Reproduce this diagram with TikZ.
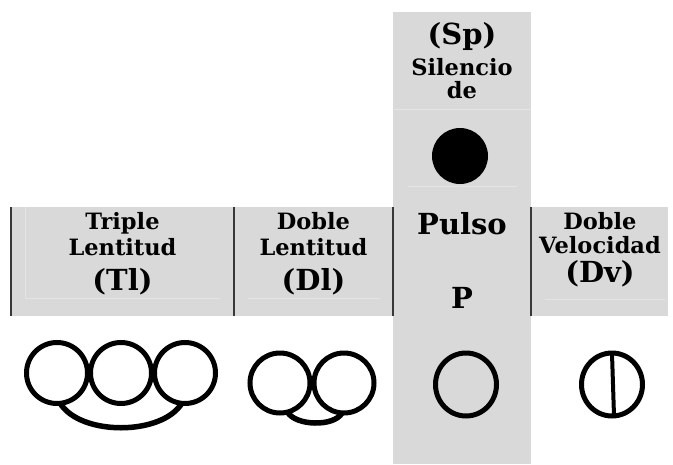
\documentclass[tikz,border=0pt]{standalone}
\usepackage{fontspec}
\setmainfont{DejaVu Serif}
\usepackage{xcolor}
\usepackage{tikz}

\definecolor{panelgray}{HTML}{D9D9D9}
\definecolor{faintgray}{HTML}{E4E4E4}
\definecolor{sepgray}{HTML}{383838}

\begin{document}
\begin{tikzpicture}[x=1pt,y=-1pt,
    small/.style={anchor=base,inner sep=0pt,font=\bfseries\fontsize{22.5}{26}\selectfont},
    big/.style={anchor=base,inner sep=0pt,font=\bfseries\fontsize{29}{34}\selectfont},
    ring/.style={line width=5pt},
    tie/.style={line width=5.5pt},
    faint/.style={draw=faintgray,line width=1pt},
    sep/.style={draw=sepgray,line width=1.5pt}]
  \useasboundingbox (0,0) rectangle (673,464);

  % Gray band and the Pulso column
  \fill[panelgray] (11,207) rectangle (668,316);
  \fill[panelgray] (393,12) rectangle (531,464);

  % Faint cell borders
  \draw[faint] (25,207) -- (25,298) -- (220,298);
  \draw[faint] (248,298) -- (380,298);
  \draw[faint] (393,109) -- (531,109);
  \draw[faint] (408,186) -- (517,186);
  \draw[faint] (545,299) -- (665,299);

  % Column separators
  \foreach \x in {11,234,393,531}{
    \draw[sep] (\x,207) -- (\x,316);
  }

  % Silencio de pulso
  \node[big] (sp1) at (462,44) {(Sp)};
  \node[small] (sp2) at (462,75) {Silencio};
  \node[small] (sp3) at (462,98) {de};
  \node[circle,fill,inner sep=0pt,minimum size=56pt] (spdot) at (460,156) {};

  % Labels of the band
  \node[small] (tl1) at (122.5,229) {Triple};
  \node[small] (tl2) at (122.5,255) {Lentitud};
  \node[big] (tl3) at (122.5,290) {(Tl)};
  \node[small] (dl1) at (313.5,229) {Doble};
  \node[small] (dl2) at (313.5,255) {Lentitud};
  \node[big] (dl3) at (313.5,290) {(Dl)};
  \node[big] (pu1) at (462,234) {Pulso};
  \node[big] (pu2) at (462,308) {P};
  \node[small] (dv1) at (600,229) {Doble};
  \node[small] (dv2) at (600,253) {Velocidad};
  \node[big] (dv3) at (600,282) {(Dv)};

  % Symbols
  \coordinate (tlA) at (57,373);
  \coordinate (tlB) at (121,373);
  \coordinate (tlC) at (185,373);
  \foreach \c in {tlA,tlB,tlC}{
    \draw[ring] (\c) circle[radius=30.5pt];
  }
  \draw[tie] ([shift={(3,30)}]tlA) .. controls +(20,33) and +(-20,33) .. ([shift={(-3,30)}]tlC);

  \coordinate (dlA) at (280,383);
  \coordinate (dlB) at (344,383);
  \foreach \c in {dlA,dlB}{
    \draw[ring] (\c) circle[radius=30pt];
  }
  \draw[tie] ([shift={(7.5,29)}]dlA) .. controls +(8,14) and +(-8,14) .. ([shift={(-2,30)}]dlB);

  \coordinate (puE) at (466,384.5);
  \draw[ring] (puE) circle[x radius=30.5pt,y radius=31.5pt];

  \coordinate (dvE) at (612,384.5);
  \draw[ring] (dvE) circle[x radius=30.5pt,y radius=31.5pt];
  \draw[line width=4pt] ([shift={(0,-31)}]dvE) -- ([shift={(2,31)}]dvE);
\end{tikzpicture}
\end{document}
